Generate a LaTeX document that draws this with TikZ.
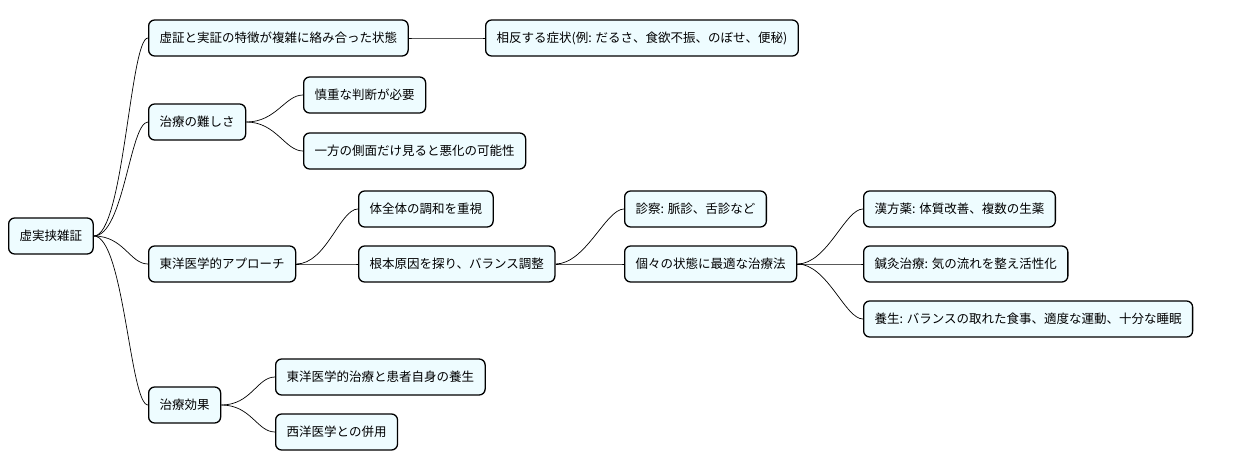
\documentclass[tikz,border=0pt]{standalone}
\usepackage{fontspec}
\setmainfont{Noto Sans CJK JP}
\definecolor{boxfill}{RGB}{238,252,255}
\begin{document}
\begin{tikzpicture}[x=1pt,y=-1pt,
  box/.style={draw=black,line width=1.3pt,fill=boxfill,rounded corners=6pt,
    minimum height=36pt,inner xsep=11pt,font=\fontsize{12.5}{15}\selectfont,anchor=west},
  link/.style={draw=black,line width=0.7pt}]
\useasboundingbox (0,0) rectangle (1240,471);
\node[box] (r) at (8,236) {虚実挟雑証};
\node[box] (a) at (148,38) {虚証と実証の特徴が複雑に絡み合った状態};
\node[box] (a1) at (485,38) {相反する症状(例: だるさ、食欲不振、のぼせ、便秘)};
\node[box] (b) at (148,122) {治療の難しさ};
\node[box] (b1) at (303,95) {慎重な判断が必要};
\node[box] (b2) at (303,151) {一方の側面だけ見ると悪化の可能性};
\node[box] (c) at (148,264) {東洋医学的アプローチ};
\node[box] (c1) at (358,209) {体全体の調和を重視};
\node[box] (c2) at (358,264) {根本原因を探り、バランス調整};
\node[box] (d) at (624,209) {診察: 脈診、舌診など};
\node[box] (e) at (624,264) {個々の状態に最適な治療法};
\node[box] (e1) at (863,209) {漢方薬: 体質改善、複数の生薬};
\node[box] (e2) at (863,264) {鍼灸治療: 気の流れを整え活性化};
\node[box] (e3) at (863,319) {養生: バランスの取れた食事、適度な運動、十分な睡眠};
\node[box] (f) at (148,405) {治療効果};
\node[box] (f1) at (275,377) {東洋医学的治療と患者自身の養生};
\node[box] (f2) at (275,432) {西洋医学との併用};
\foreach \p/\c in {r/a,r/b,r/c,r/f,a/a1,b/b1,b/b2,c/c1,c/c2,c2/d,c2/e,e/e1,e/e2,e/e3,f/f1,f/f2}
  \draw[link] (\p.east) .. controls ([xshift=30pt]\p.east) and ([xshift=-18pt]\c.west) .. (\c.west);
\end{tikzpicture}
\end{document}
